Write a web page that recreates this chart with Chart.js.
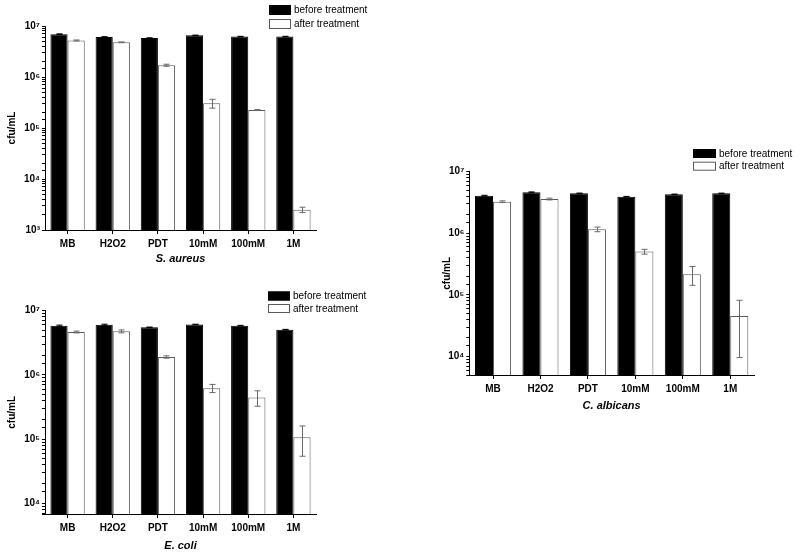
<!DOCTYPE html>
<html>
<head>
<meta charset="utf-8">
<script src="https://cdn.jsdelivr.net/npm/chart.js@4.4.0/dist/chart.umd.min.js"></script>
<style>
  body { margin: 0; background: #fff; width: 800px; height: 555px; position: relative; overflow: hidden; }
  .panel { position: absolute; }
</style>
</head>
<body>
<div class="panel" style="left:0;top:0"><canvas id="saChart" width="390" height="269"></canvas></div>
<div class="panel" style="left:0;top:280px"><canvas id="ecChart" width="390" height="276"></canvas></div>
<div class="panel" style="left:435px;top:140px"><canvas id="caChart" width="365" height="276"></canvas></div>
<script>
// categories
const categories = ['MB', 'H2O2', 'PDT', '10mM', '100mM', '1M'];

// S. aureus (cfu/mL)
const saBefore    = [6.9e6, 6.1e6, 5.8e6, 6.55e6, 6.2e6, 6.2e6];
const saBeforeErr = [0.12e6, 0.08e6, 0.08e6, 0.08e6, 0.08e6, 0.08e6];
const saAfter     = [5.2e6, 4.8e6, 1.7e6, 3.05e5, 2.25e5, 2.5e3];
const saAfterErr  = [0.12e6, 0.08e6, 0.08e6, 0.6e5, 0.05e5, 0.3e3];

// E. coli
const ecBefore    = [5.85e6, 6.05e6, 5.5e6, 6.1e6, 5.85e6, 5.07e6];
const ecBeforeErr = [0.12e6, 0.12e6, 0.06e6, 0.06e6, 0.06e6, 0.05e6];
const ecAfter     = [4.66e6, 4.77e6, 1.9e6, 6.2e5, 4.45e5, 1.07e5];
const ecAfterErr  = [0.15e6, 0.25e6, 0.08e6, 0.9e5, 1.2e5, 0.53e5];

// C. albicans
const caBefore    = [4.08e6, 4.62e6, 4.45e6, 3.93e6, 4.29e6, 4.45e6];
const caBeforeErr = [0.06e6, 0.08e6, 0.05e6, 0.04e6, 0.04e6, 0.04e6];
const caAfter     = [3.26e6, 3.6e6, 1.16e6, 5.04e5, 2.16e5, 4.56e4];
const caAfterErr  = [0.1e6, 0.12e6, 0.1e6, 0.45e5, 0.73e5, 3.6e4];

const FONT = '"Liberation Sans", Arial, Helvetica, sans-serif';
const SUP = '⁰¹²³⁴⁵⁶⁷⁸⁹';

// 10^n labels only on the decades
function decadeLabel(v) {
  const e = Math.round(Math.log10(v));
  if (Math.abs(v - Math.pow(10, e)) > 1e-6 * v) return '';
  return '10' + String(e).split('').map(d => SUP[+d]).join('');
}

// error bars drawn on top of bars
const errorBars = {
  id: 'errorBars',
  afterDatasetsDraw(chart, args, opts) {
    const ctx = chart.ctx, y = chart.scales.y;
    ctx.save();
    ctx.lineWidth = 1;
    chart.data.datasets.forEach((ds, di) => {
      ctx.strokeStyle = ds.errColor;
      chart.getDatasetMeta(di).data.forEach((bar, i) => {
        const v = ds.data[i], e = ds.errors[i];
        const yt = y.getPixelForValue(v + e), yb = y.getPixelForValue(v - e);
        const x = Math.round(bar.x) + 0.5, w = opts.cap / 2;
        ctx.beginPath();
        ctx.moveTo(x, yt); ctx.lineTo(x, yb);
        ctx.moveTo(x - w, yt); ctx.lineTo(x + w, yt);
        ctx.moveTo(x - w, yb); ctx.lineTo(x + w, yb);
        ctx.stroke();
      });
    });
    ctx.restore();
  }
};

// stacked box legend in the top right corner
const boxLegend = {
  id: 'boxLegend',
  afterDraw(chart, args, o) {
    const ctx = chart.ctx;
    ctx.save();
    ctx.font = '10px ' + FONT;
    ctx.textBaseline = 'middle';
    chart.data.datasets.forEach((ds, i) => {
      const y = o.y + i * o.rowH;
      ctx.fillStyle = ds.backgroundColor;
      ctx.fillRect(o.x, y, o.boxW, o.boxH);
      ctx.strokeStyle = ds.borderColor;
      ctx.strokeRect(o.x + 0.5, y + 0.5, o.boxW - 1, o.boxH - 1);
      ctx.fillStyle = '#000';
      ctx.fillText(ds.label, o.x + o.boxW + 3, y + o.boxH / 2 + 0.5);
    });
    ctx.restore();
  }
};

function makeChart(id, before, beforeErr, after, afterErr, title, yMin, L) {
  return new Chart(document.getElementById(id), {
    type: 'bar',
    data: {
      labels: categories,
      datasets: [
        { label: 'before treatment', data: before, errors: beforeErr, errColor: '#000',
          backgroundColor: '#000', borderColor: '#000', borderWidth: 1 },
        { label: 'after treatment', data: after, errors: afterErr, errColor: '#6a6a6a',
          backgroundColor: '#fff', borderColor: '#5a5a5a', borderWidth: 1 }
      ]
    },
    options: {
      responsive: false,
      animation: false,
      layout: { padding: { top: L.top, right: L.right, left: 0, bottom: 0 } },
      datasets: { bar: { categoryPercentage: 0.76, barPercentage: 1 } },
      plugins: {
        legend: { display: false },
        tooltip: { enabled: false },
        errorBars: { cap: 6 },
        boxLegend: L.legend
      },
      scales: {
        x: {
          border: { color: '#000', width: 1 },
          grid: { offset: false, drawOnChartArea: false, tickLength: 4, color: '#000' },
          ticks: { color: '#000', padding: 4, font: { family: FONT, size: 10, weight: 'bold' } },
          title: { display: true, text: title, color: '#000', padding: { top: 0, bottom: 3 },
                   font: { family: FONT, size: 11, weight: 'bold', style: 'italic' } },
          afterFit(s) { s.height = L.xH; }
        },
        y: {
          type: 'logarithmic',
          min: yMin,
          max: 1e7,
          border: { color: '#000', width: 1 },
          grid: { drawOnChartArea: false, tickLength: 3, color: '#000' },
          ticks: { autoSkip: false, color: '#000', padding: 2, callback: decadeLabel,
                   font: { family: FONT, size: 10, weight: 'bold' } },
          title: { display: true, text: 'cfu/mL', color: '#000', padding: { top: 6, bottom: 0 },
                   font: { family: FONT, size: 10, weight: 'bold' } },
          afterFit(s) { s.width = L.yW; }
        }
      }
    },
    plugins: [errorBars, boxLegend]
  });
}

makeChart('saChart', saBefore, saBeforeErr, saAfter, saAfterErr, 'S. aureus', 1e3,
  { top: 26, right: 74, yW: 45, xH: 39, legend: { x: 269, y: 5, boxW: 22, boxH: 10, rowH: 14 } });
makeChart('ecChart', ecBefore, ecBeforeErr, ecAfter, ecAfterErr, 'E. coli', 6.8e3,
  { top: 30.7, right: 74, yW: 45, xH: 42, legend: { x: 268, y: 11.5, boxW: 22, boxH: 9, rowH: 12.5 } });
makeChart('caChart', caBefore, caBeforeErr, caAfter, caAfterErr, 'C. albicans', 5e3,
  { top: 31.7, right: 46, yW: 34.3, xH: 41, legend: { x: 258, y: 9, boxW: 23, boxH: 9, rowH: 12.7 } });
</script>
</body>
</html>
